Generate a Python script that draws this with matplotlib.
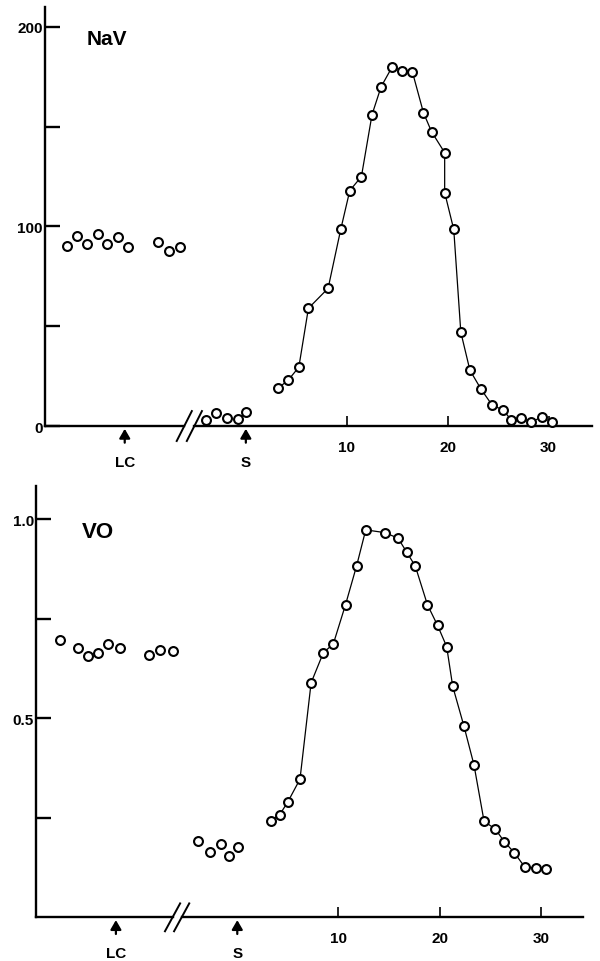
###################################
### Perfiles NaV y VO por fraccion ###
###################################

import matplotlib.pyplot as plt

# Fuente tipo Helvetica en negrita, como la figura escaneada
plt.rcParams['font.family'] = ['Liberation Sans', 'DejaVu Sans']
plt.rcParams['font.weight'] = 'bold'

# ---- Datos panel superior (NaV) ----
nav_lc_x = [-17.75, -16.7, -15.7, -14.6, -13.8, -12.7, -11.7, -8.7, -7.6, -6.5]
nav_lc_y = [90, 95, 91, 96, 91, 94.5, 89.5, 92, 87.5, 89.5]
nav_s_x = [-3.9, -3.0, -1.9, -0.8, 0.05]
nav_s_y = [3, 6.5, 4, 3.5, 7]
nav_x = [3.2, 4.2, 5.25, 6.2, 8.15, 9.4, 10.3, 11.45, 12.5, 13.4, 14.5, 15.5, 16.5, 17.6,
         18.4, 19.7, 19.7, 20.6, 21.3, 22.2, 23.3, 24.4, 25.5, 26.3, 27.3, 28.3, 29.3, 30.3]
nav_y = [19, 23, 29.5, 59, 69, 98.5, 118, 125, 156, 170, 180, 178, 177.5, 157,
         147.5, 137, 117, 98.5, 47, 28, 18.5, 10.5, 8, 3, 4, 2, 4.5, 2]

# ---- Datos panel inferior (VO) ----
vo_lc_x = [-17.5, -15.7, -14.8, -13.8, -12.8, -11.6, -8.7, -7.6, -6.4]
vo_lc_y = [0.697, 0.677, 0.657, 0.665, 0.687, 0.677, 0.660, 0.672, 0.668]
vo_s_x = [-3.9, -2.7, -1.6, -0.8, 0.03]
vo_s_y = [0.192, 0.163, 0.184, 0.155, 0.176]
vo_x = [3.3, 4.2, 5.0, 6.2, 7.3, 8.5, 9.5, 10.7, 11.8, 12.7, 14.6, 15.9, 16.75, 17.6,
        18.8, 19.8, 20.7, 21.3, 22.4, 23.4, 24.4, 25.5, 26.4, 27.4, 28.4, 29.5, 30.5]
vo_y = [0.243, 0.258, 0.290, 0.347, 0.589, 0.664, 0.687, 0.785, 0.883, 0.973, 0.966, 0.952,
        0.917, 0.882, 0.785, 0.733, 0.680, 0.580, 0.481, 0.383, 0.241, 0.222, 0.190,
        0.162, 0.127, 0.124, 0.122]

# Marcas con flecha bajo el eje x
flecha_x = [-12, 0]
flecha_txt = ['LC', 'S']

# Ticks del eje x
xticks = [10, 20, 30]

# Estilo comun de los circulos
circ = dict(marker='o', ms=6.4, mfc='white', mec='black', mew=1.5)


def panel(ax, grupos, cx, cy, xlim, ylim, yticks, ylabels, brk, brk_dy):
    # Grupos sueltos (sin linea)
    for gx, gy in grupos:
        ax.plot(gx, gy, ls='none', clip_on=False, zorder=4, **circ)
    # Curva principal con linea
    ax.plot(cx, cy, color='black', lw=0.9, clip_on=False, zorder=4, **circ)

    ax.set_xlim(*xlim)
    ax.set_ylim(*ylim)

    # Solo el eje y como spine, el eje x lo dibujamos con el corte
    for s in ['top', 'right', 'bottom']:
        ax.spines[s].set_visible(False)
    ax.spines['left'].set_linewidth(1.7)

    ax.plot([xlim[0], brk[0]], [0, 0], color='black', lw=1.7, clip_on=False, zorder=3)
    ax.plot([brk[1], xlim[1]], [0, 0], color='black', lw=1.7, clip_on=False, zorder=3)
    # Las dos barras del corte //
    for c in brk:
        ax.plot([c - 0.75, c + 0.75], [-brk_dy, brk_dy], color='black', lw=1.4,
                clip_on=False, zorder=3)

    ax.set_yticks(yticks)
    ax.set_yticklabels(ylabels)
    ax.set_xticks(xticks)
    ax.set_xticklabels([str(t) for t in xticks])
    ax.tick_params(axis='y', direction='in', length=11, width=1.7, pad=1.5, labelsize=11)
    ax.tick_params(axis='x', direction='in', length=7, width=1.2, pad=10, labelsize=11)

    # Flechas LC y S
    for x, t in zip(flecha_x, flecha_txt):
        ax.annotate('', xy=(x, 0), xytext=(0, -12), textcoords='offset points',
                    annotation_clip=False,
                    arrowprops=dict(arrowstyle='-|>,head_length=0.55,head_width=0.32',
                                    color='black', lw=1.6, shrinkA=0, shrinkB=2))
        ax.annotate(t, xy=(x, 0), xytext=(0, -26), textcoords='offset points',
                    ha='center', va='center', fontsize=11, annotation_clip=False)


fig = plt.figure(figsize=(6, 9.62), dpi=100)

ax1 = fig.add_axes([0.075, 0.5561, 0.9117, 0.4356])
panel(ax1, [(nav_lc_x, nav_lc_y), (nav_s_x, nav_s_y)], nav_x, nav_y,
      (-19.9, 34.3), (0, 210), [0, 50, 100, 150, 200], ['0', '', '100', '', '200'],
      (-6.1, -5.1), 7.5)

ax2 = fig.add_axes([0.06, 0.0454, 0.912, 0.4483])
panel(ax2, [(vo_lc_x, vo_lc_y), (vo_s_x, vo_s_y)], vo_x, vo_y,
      (-19.9, 34.2), (0, 1.083), [0.25, 0.5, 0.75, 1.0], ['', '0.5', '', '1.0'],
      (-6.4, -5.5), 0.035)

# Titulos de cada panel
fig.text(0.145, 0.9532, 'NaV', fontsize=15, va='baseline')
fig.text(0.137, 0.4407, 'VO', fontsize=16, va='baseline')

fig.savefig('out.png', dpi=100)
